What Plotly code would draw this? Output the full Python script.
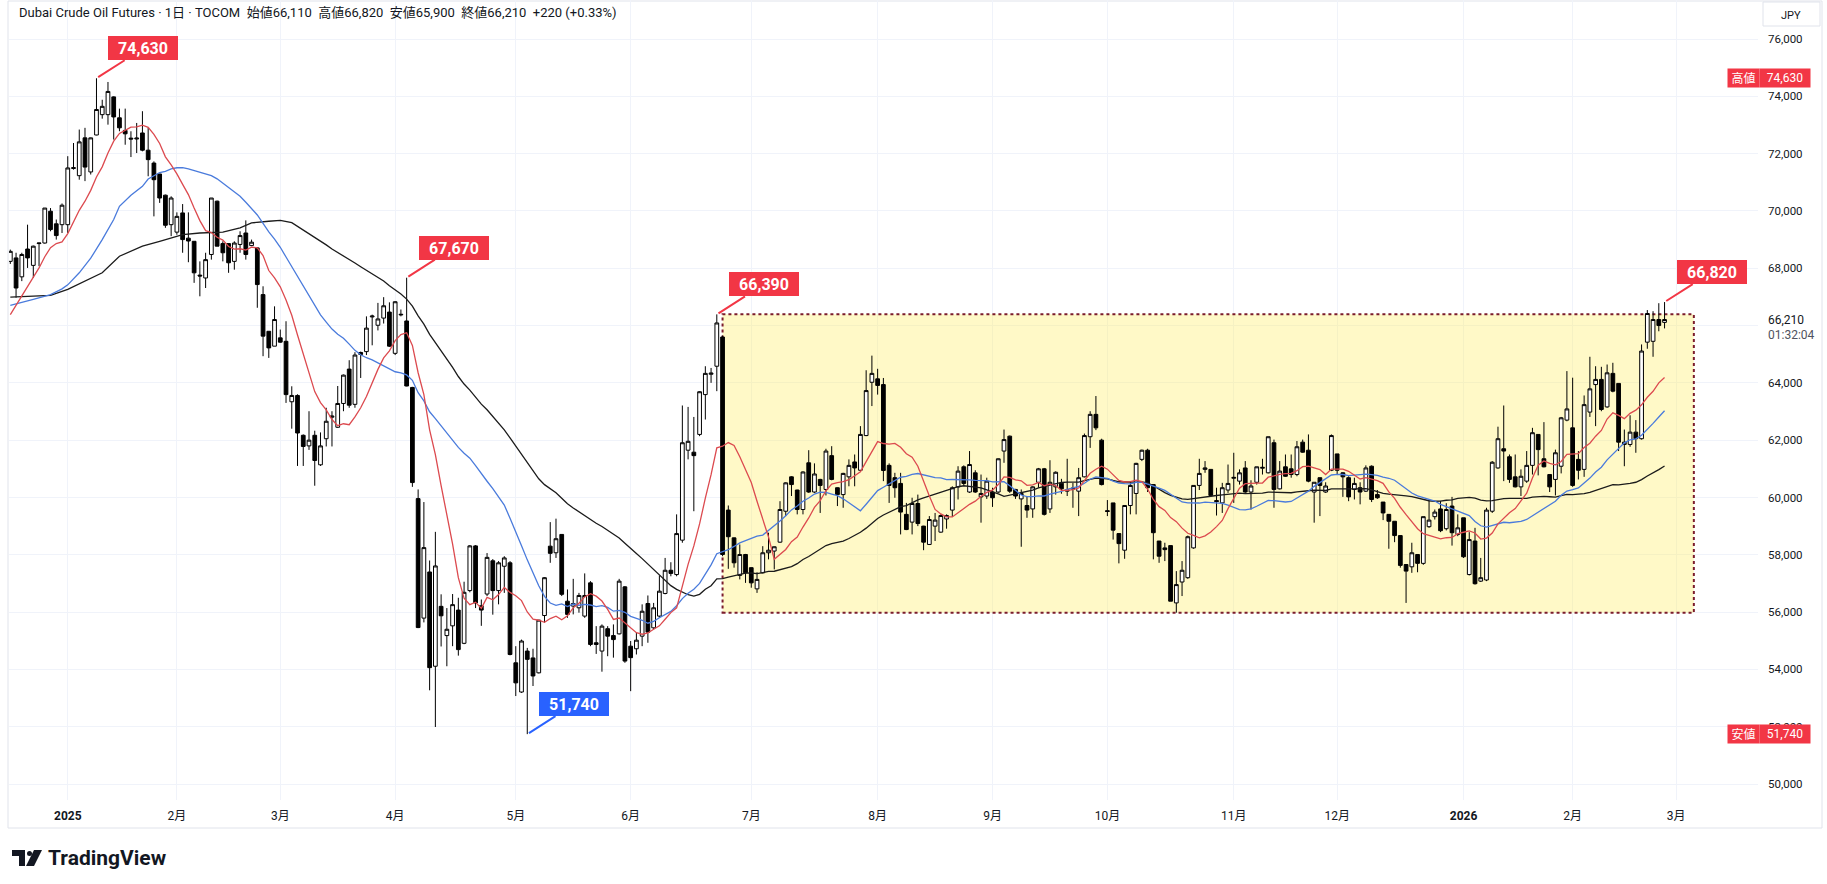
import numpy as np
import pandas as pd
import plotly.graph_objects as go

# ---------------- data ----------------
opens = [68240,68360,67700,68670,68100,68860,68880,69990,69550,69520,
69520,71480,71230,72550,71360,72650,73360,73360,73980,73250,
72810,72540,72510,72720,72120,71670,71290,70550,69520,69260,
69930,69050,68940,67760,67660,68480,70340,68860,68860,68240,
68830,69230,68790,68710,67080,65800,65280,65570,65450,63340,
63560,62170,61800,62170,61140,62050,62800,62450,63280,64480,
63250,65060,65090,66300,66010,66260,66470,65030,66370,66160,
63840,59960,55790,57400,54110,56200,55180,55520,56070,54910,
56750,58310,56220,56630,57790,56750,57600,57720,54230,53210,
54640,54400,53880,55880,58300,58070,58710,56380,56210,56150,
55860,57020,54930,54640,55420,55180,55240,56880,54810,54720,
55160,56300,55450,55860,56650,57460,57310,58510,61650,61580,
62200,63590,64300,64580,65600,59560,58590,57280,58010,57550,
56810,57370,58070,58130,58440,59520,60720,60260,59580,61210,
60190,60630,60280,61460,60340,60100,60720,61240,60950,62160,
64020,64140,63940,61120,60690,60490,59410,59140,59790,59000,
58360,59000,58790,59250,59560,60370,61070,60190,60860,60020,
60050,60190,60190,61620,62140,60280,59950,59720,59600,60530,
61000,59600,60370,60500,60220,60330,60220,60720,62120,62900,
62000,59540,59810,58740,58160,59720,60140,61330,61650,60450,
58480,58240,58320,56320,57050,57200,58240,60420,60980,60980,
59890,59810,60260,60670,60570,61030,60190,60530,61020,60860,
61910,60300,61070,61000,60800,61930,61650,60190,60690,60190,
60950,61520,60860,60690,60280,60340,60220,61090,60100,59840,
59410,59170,58670,57660,57580,58010,57700,58980,59330,59600,
58910,59700,58710,59290,57310,58480,57080,57120,59520,61030,
61700,61420,60720,60370,60570,61120,62200,61350,60800,60630,
61090,62700,62430,61330,60980,62980,63940,64120,63160,64330,
63980,61850,61850,62280,62050,65420,65450,66210,66110]

highs = [68650,68540,68540,69520,68790,68880,70100,70100,69700,70260,
71910,72370,72840,72900,72560,74630,73880,74500,74000,73570,
73570,72780,73070,73480,72900,71730,71290,70570,70510,69950,
70240,69950,68940,68240,68540,70450,70360,68940,68860,68940,
69290,69670,69000,68740,67370,65800,66670,65860,66150,63880,
63600,62200,63010,62330,62270,63130,63010,63890,64290,64790,
65070,65090,66320,66380,66790,66990,66810,66850,66560,67670,
63860,60280,59840,57800,58800,56620,56140,56630,56500,57060,
58340,58340,56440,58060,57850,57780,57950,57780,54810,55040,
54750,54720,55720,57220,59140,59260,58710,56790,57160,56670,
57350,57080,55510,55570,55510,55570,57160,56910,54990,55280,
56270,56580,56320,57280,57890,57740,59410,63210,63160,62810,
63710,64580,64520,66390,65650,59720,58600,58360,58030,57560,
57390,58300,58770,58290,59870,60530,60740,60270,60910,61650,
61190,60650,61700,61790,60350,60860,61330,61500,62490,64440,
64950,64490,64170,61190,60860,60860,59810,59990,60100,59010,
59350,59460,59410,59410,60390,61090,61120,61620,60950,60800,
60690,60340,61360,62370,62160,60300,60280,60050,60390,61030,
61030,61300,60910,60650,61350,60510,61030,62230,63010,63540,
62050,59910,59810,58740,59720,60570,61210,61670,61700,60450,
58480,58420,58320,57430,57780,58670,60420,61350,61270,60980,
60340,60510,61150,61560,60980,61270,60600,61070,61350,62120,
62020,61270,61500,61500,61970,62020,62200,60530,60690,60530,
62200,61520,60880,60740,60690,60530,61120,61120,60260,59840,
59410,59170,58670,57660,58420,58010,59330,59930,59580,59880,
59800,60020,59410,59290,58790,58940,57890,59640,61270,62470,
63210,61500,61500,60980,61620,62430,62200,62630,60800,61670,
62810,64410,64180,61620,63560,64910,64580,64560,64640,64700,
63980,62370,62870,62700,65340,66540,66500,66780,66820]

lows = [68150,66970,67550,68010,67660,68070,68860,69290,69000,69230,
69230,71440,71090,71040,71270,72640,73220,73010,72490,72780,
72310,71880,72020,72080,71210,69810,70280,69410,69120,69170,
68540,68210,67490,67020,67310,68300,68770,68240,67840,67950,
68540,68300,68770,66620,64930,64870,65280,65400,63300,62400,
61100,61100,61660,60410,61100,61780,61780,62430,63010,63130,
63130,64170,64970,65310,65830,66070,65250,64970,66320,63880,
60370,55440,55640,53270,51990,54800,54110,54810,54480,54880,
56690,56140,55520,56560,55910,56270,56670,54490,53070,53180,
51740,53420,53860,55630,57720,57890,56560,55800,55920,55980,
55800,54810,54540,53920,54460,54410,55220,54230,53240,54520,
54810,54930,55390,55800,56620,57250,57250,58420,61330,59520,
62140,62720,64000,63710,57950,57510,57550,57140,57020,56850,
56670,57350,57840,57490,58420,59350,60050,59410,59410,60160,
60160,59460,60070,60600,59700,59640,60390,60390,60930,62140,
63190,63590,60570,59810,59990,58710,58860,58710,59000,58160,
58340,58480,58770,58910,59320,59930,60420,60160,60160,59120,
59950,59670,60160,61210,60160,59950,58280,59290,59290,60340,
59370,59460,60100,60130,60050,59640,59350,60700,61730,62350,
60420,59350,58530,57700,57860,59410,59410,61270,60190,57840,
57720,57780,56380,55980,56560,57160,58210,60260,60860,60020,
59370,59460,60160,59810,60450,60160,59580,60450,60800,60840,
59640,60280,60720,60690,60740,61560,60530,59120,59350,60160,
60920,60800,60020,59870,59930,59760,60190,59840,59950,59210,
58210,58440,57550,56320,57370,57390,57650,58940,59230,58790,
58850,58320,58650,57890,57280,56960,57050,57080,59460,61000,
60570,60510,60350,60050,60510,60800,60770,61050,60190,60070,
60840,62660,60370,60630,60720,62810,62490,63010,63130,63670,
61620,61090,61770,61560,62020,65190,64910,65800,65900]

closes = [68590,67310,68480,68360,68770,68880,70100,69350,69140,70200,
71500,71510,72410,71530,72550,73540,73650,74170,73280,72900,
72690,72510,72540,72120,71790,71090,70450,69500,70450,69810,
69000,68950,67840,67730,68300,70450,68770,68540,68190,68880,
69140,68480,68910,67430,65630,65220,66210,65420,63590,63560,
62250,61780,62000,61290,61800,62660,62840,63280,64270,63220,
64970,64990,65910,66330,66230,66690,65280,66830,66390,63890,
60520,55460,58250,54060,57610,55870,55400,56260,54690,56690,
58310,56320,56070,57910,56750,57720,57890,54520,53530,54990,
54350,53770,55720,57200,58050,58560,56620,55920,56300,56580,
56580,54870,54870,55510,55160,55040,57080,54290,54410,55020,
56030,55300,56150,56730,57460,57350,58740,61910,61960,61460,
63690,64330,64340,66090,58010,58630,57720,58010,57370,57020,
57140,58070,58160,58280,59580,60510,60450,59580,60890,60190,
60820,60420,61620,60630,60100,60840,61120,61030,62200,63730,
64330,63910,60940,60420,60340,59490,58880,59790,59090,58440,
59230,59210,59370,59370,60340,60920,60490,61150,60190,60140,
60570,59990,61350,62020,60220,60050,60140,59560,60370,61000,
59410,60530,60880,60300,60260,60300,60690,62160,62900,62430,
60450,59510,58860,58390,59720,60420,61190,61650,60340,58770,
57950,58180,56380,56960,57460,58630,60420,60840,61030,60070,
59860,60340,60490,60700,60860,60190,60400,61070,61050,62120,
60280,60920,60740,60800,61770,61580,60570,60530,60420,60400,
62160,60950,60720,60020,60490,60190,61030,59930,59990,59460,
59170,58670,57630,57430,58070,57700,59330,59210,59490,58840,
59580,58770,58940,57930,58530,56990,57200,59560,61230,62050,
61620,60630,60370,60740,61120,62260,61670,61070,60370,61560,
62780,63090,60420,60950,63240,63790,64120,63070,64350,63710,
61930,61930,62280,62050,65110,66420,66210,66000,66210]

# moving-average values for the first bars (before the window fills)
ma10_warmup = [66380, 66710, 67020, 67340, 67660, 68010, 68400, 68720, 68860]
ma25_warmup_idx = [0, 2, 4, 7, 9, 10, 12, 14, 16, 18, 19, 21, 23]
ma25_warmup_val = [66700, 66800, 66910, 67080, 67280, 67420, 67840, 68350, 69000, 69700, 70160, 70550, 70860]
ma50_warmup_idx = [0, 4, 7, 10, 13, 16, 19, 21, 23, 26, 30, 33, 37, 40, 42, 45, 47]
ma50_warmup_val = [66990, 67020, 67050, 67260, 67550, 67840, 68420, 68600, 68770, 68940, 69170, 69230, 69260, 69410, 69580, 69640, 69670]

start_date = "2024-12-17"
holidays = ["2024-12-31", "2025-01-01", "2025-01-02", "2025-01-03", "2025-01-13", "2025-02-11",
            "2025-02-24", "2025-03-20", "2025-04-29", "2025-05-05", "2025-05-06", "2025-07-21",
            "2025-08-11", "2025-09-15", "2025-09-23", "2025-10-13", "2025-11-03", "2025-11-24",
            "2025-12-31", "2026-01-01", "2026-01-02", "2026-01-12", "2026-02-11", "2026-02-23"]

y_ticks = list(range(50000, 76001, 2000))
title_text = ("Dubai Crude Oil Futures · 1日 · TOCOM  始値66,110  高値66,820  "
              "安値65,900  終値66,210  +220 (+0.33%)")
high_label = 74630
low_label = 51740
last_close = 66210
countdown = "01:32:04"
box_top, box_bottom = 66390, 55980   # highlighted range

# ---------------- derived ----------------
n = len(closes)
cal = pd.bdate_range(start_date, "2026-03-31")
cal = cal[~cal.isin(pd.to_datetime(holidays))]
dates = cal[:n]
xs = np.arange(n)

tick_idx, tick_txt = [], []
prev = None
for i, d in enumerate(cal):
    key = (d.year, d.month)
    if key != prev:
        prev = key
        if d < pd.Timestamp("2025-01-01"):
            continue
        tick_idx.append(i)
        tick_txt.append(f"<b>{d.year}</b>" if d.month == 1 else f"{d.month}月")

s = pd.Series(closes, dtype=float)
ma10 = s.rolling(10).mean()
ma25 = s.rolling(25).mean()
ma50 = s.rolling(50).mean()
red_x = list(range(9)) + list(range(9, n))
red_y = ma10_warmup + ma10.iloc[9:].tolist()
blue_x = ma25_warmup_idx + list(range(24, n))
blue_y = ma25_warmup_val + ma25.iloc[24:].tolist()
black_x = ma50_warmup_idx + list(range(49, n))
black_y = ma50_warmup_val + ma50.iloc[49:].tolist()

idx_hi = int(np.argmax(highs))
idx_lo = int(np.argmin(lows))

# ---------------- layout geometry (pixels) ----------------
W, H = 1827, 884
ML, MR, MT, MB = 9, 69, 0, 84
PW, PH = W - ML - MR, H - MT - MB


def px(xp):
    return (xp - ML) / PW


def py(yp):
    return (PH - (yp - MT)) / PH


FONT = "Roboto, 'Noto Sans CJK JP', sans-serif"
TXT = "#131722"
RED = "#F23645"
BLUE_LBL = "#2962FF"

fig = go.Figure()

fig.add_trace(go.Candlestick(
    x=xs, open=opens, high=highs, low=lows, close=closes,
    increasing=dict(line=dict(color="#000000", width=1), fillcolor="#ffffff"),
    decreasing=dict(line=dict(color="#000000", width=1), fillcolor="#000000"),
    whiskerwidth=0, showlegend=False, hoverinfo="skip"))

fig.add_trace(go.Scatter(x=black_x, y=black_y, mode="lines",
                         line=dict(color="#1b1b1b", width=1.3), hoverinfo="skip"))
fig.add_trace(go.Scatter(x=blue_x, y=blue_y, mode="lines",
                         line=dict(color="#4a7bdc", width=1.3), hoverinfo="skip"))
fig.add_trace(go.Scatter(x=red_x, y=red_y, mode="lines",
                         line=dict(color="#dc4a4f", width=1.3), hoverinfo="skip"))

shapes = []
# highlighted box
box_x0 = 124
box_x1 = n + 4.1
shapes.append(dict(type="rect", xref="x", yref="y", x0=box_x0, x1=box_x1, y0=box_bottom, y1=box_top,
                   fillcolor="rgba(255,236,80,0.32)", line=dict(color="#7b1c2c", width=2, dash="dot"),
                   layer="between"))
# outer frame
shapes.append(dict(type="rect", xref="paper", yref="paper", x0=px(8), x1=px(1822), y0=py(828), y1=py(1),
                   line=dict(color="#e0e3eb", width=1), fillcolor="rgba(0,0,0,0)", layer="below"))
# JPY box
shapes.append(dict(type="rect", xref="paper", yref="paper", x0=px(1763), x1=px(1820), y0=py(26), y1=py(2),
                   line=dict(color="#e0e3eb", width=1), fillcolor="white"))
# TradingView logo
lx, ly = 12, 850
shapes.append(dict(type="path", xref="paper", yref="paper",
                   path=f"M {px(lx)} {py(ly)} L {px(lx+13)} {py(ly)} L {px(lx+13)} {py(ly+16)} "
                        f"L {px(lx+7)} {py(ly+16)} L {px(lx+7)} {py(ly+6)} L {px(lx)} {py(ly+6)} Z",
                   fillcolor="#131722", line=dict(width=0)))
shapes.append(dict(type="circle", xref="paper", yref="paper", x0=px(lx+15), x1=px(lx+20),
                   y0=py(ly+6), y1=py(ly+1), fillcolor="#131722", line=dict(width=0)))
shapes.append(dict(type="path", xref="paper", yref="paper",
                   path=f"M {px(lx+22)} {py(ly)} L {px(lx+30)} {py(ly)} L {px(lx+22)} {py(ly+16)} "
                        f"L {px(lx+14)} {py(ly+16)} Z",
                   fillcolor="#131722", line=dict(width=0)))

ann = []


def price_label(i, price, text, color):
    ann.append(dict(x=i, y=price, xref="x", yref="y", text=f"<b>{text}</b>", showarrow=True,
                    arrowhead=0, arrowwidth=2, arrowcolor=color, ax=47, ay=-30,
                    standoff=2, bgcolor=color, bordercolor=color, borderwidth=0, width=68, height=22,
                    xanchor="center", yanchor="middle",
                    font=dict(color="white", size=16, family=FONT)))


price_label(idx_hi, highs[idx_hi], f"{highs[idx_hi]:,}", RED)
price_label(69, highs[69], f"{highs[69]:,}", RED)
price_label(123, highs[123], f"{highs[123]:,}", RED)
price_label(n - 1, highs[n - 1], f"{highs[n - 1]:,}", RED)
price_label(idx_lo, lows[idx_lo], f"{lows[idx_lo]:,}", BLUE_LBL)

# title
ann.append(dict(x=px(17), y=py(13), xref="paper", yref="paper", xanchor="left", yanchor="middle",
                text=title_text, showarrow=False, font=dict(size=13, color=TXT, family=FONT)))
# JPY
ann.append(dict(x=px(1791), y=py(15), xref="paper", yref="paper", xanchor="center", yanchor="middle",
                text="JPY", showarrow=False, font=dict(size=11, color=TXT, family=FONT)))
# high / low markers on price scale
for lbl, val in (("高値", high_label), ("安値", low_label)):
    ann.append(dict(x=px(1743), y=val, xref="paper", yref="y", xanchor="center", yanchor="middle",
                    text=lbl, showarrow=False,
                    bgcolor=RED, width=29, height=16, font=dict(size=12, color="white", family=FONT)))
    ann.append(dict(x=px(1785), y=val, xref="paper", yref="y", xanchor="center", yanchor="middle",
                    text=f"{val:,}", showarrow=False,
                    bgcolor=RED, width=48, height=16, font=dict(size=12, color="white", family=FONT)))
# last price + countdown
ann.append(dict(x=px(1766), y=last_close, xref="paper", yref="y", xanchor="left", yanchor="middle",
                text=f"{last_close:,}", showarrow=False, font=dict(size=12, color=TXT, family=FONT)))
ann.append(dict(x=px(1766), y=last_close, xref="paper", yref="y", xanchor="left", yanchor="middle",
                yshift=-15, text=countdown, showarrow=False, font=dict(size=12, color="#50535e", family=FONT)))
# brand
ann.append(dict(x=px(46), y=py(858), xref="paper", yref="paper", xanchor="left", yanchor="middle",
                text="<b>TradingView</b>", showarrow=False, font=dict(size=21, color=TXT, family=FONT)))

fig.update_layout(
    width=W, height=H, margin=dict(l=ML, r=MR, t=MT, b=MB, pad=0),
    paper_bgcolor="white", plot_bgcolor="white", showlegend=False,
    boxgap=0.35, boxgroupgap=0,
    font=dict(family=FONT, color=TXT),
    xaxis=dict(range=[-0.23, 304.27], tickmode="array", tickvals=tick_idx, ticktext=tick_txt,
               showgrid=True, gridcolor="#f0f3fa", gridwidth=1, zeroline=False, showline=False,
               ticks="", ticklabelstandoff=7, tickfont=dict(size=12, color=TXT, family=FONT),
               rangeslider=dict(visible=False), fixedrange=True),
    yaxis=dict(side="right", range=[49442, 77361], tickmode="array", tickvals=y_ticks,
               ticktext=["" if v == 66000 else f"{v:,}" for v in y_ticks],
               showgrid=True, gridcolor="#f0f3fa", gridwidth=1, zeroline=False, showline=False,
               ticks="", ticklabelstandoff=9, tickfont=dict(size=11.5, color=TXT, family=FONT),
               fixedrange=True),
    shapes=shapes, annotations=ann,
)

fig.write_html("out.html", config={"displayModeBar": False},
               post_script="document.body.style.margin='0';document.body.style.overflow='hidden';")
